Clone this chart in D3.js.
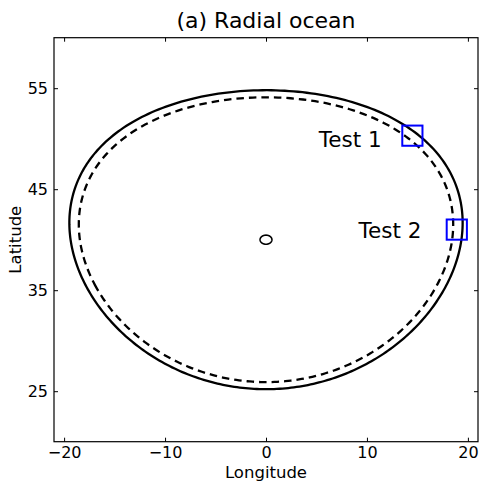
<!DOCTYPE html>
<html>
<head>
<meta charset="utf-8">
<script src="https://cdn.jsdelivr.net/npm/d3@7"></script>
<style>
  html, body { margin: 0; padding: 0; background: #fff; }
  svg { display: block; font-family: "DejaVu Sans", sans-serif; }
</style>
</head>
<body>
<svg id="chart" width="479" height="481"></svg>
<script>
// ---- data ----
const xTicks = [-20, -10, 0, 10, 20];
const yTicks = [25, 35, 45, 55];
const xDomain = [-21, 21];
const yDomain = [20, 60];
// ocean boundaries: spherical circles centred at (lon, lat) with radius in degrees
const circleCenters = [[0, 40], [0, 40], [0, 40]];
const circleRadii = [14.8, 14.1, 0.45];
const circleDash = ["none", "7.5,5", "none"];
// test boxes [lon0, lon1, lat0, lat1]
const boxLon0 = [13.5, 17.9];
const boxLon1 = [15.5, 19.9];
const boxLat0 = [49.3, 40.0];
const boxLat1 = [51.3, 42.0];
const labelText = ["Test 1", "Test 2"];
const labelLon = [11.45, 15.4];
const labelLat = [49.15, 40.14];

// ---- layout ----
const W = 479, H = 481;
const margin = { left: 54, right: 1, top: 37.7, bottom: 39.3 };
const svg = d3.select("#chart");

const x = d3.scaleLinear().domain(xDomain).range([margin.left, W - margin.right]);
const y = d3.scaleLinear().domain(yDomain).range([H - margin.bottom, margin.top]);

const line = d3.line().x(d => x(d[0])).y(d => y(d[1]));

// curves
circleRadii.forEach((r, i) => {
  const ring = d3.geoCircle().center(circleCenters[i]).radius(r).precision(1)().coordinates[0];
  svg.append("path")
    .attr("d", line(ring) + "Z")
    .attr("fill", "none")
    .attr("stroke", "#000")
    .attr("stroke-width", i === 2 ? 1.6 : 2.3)
    .attr("stroke-dasharray", circleDash[i]);
});

// test boxes
boxLon0.forEach((l0, i) => {
  svg.append("rect")
    .attr("x", x(l0))
    .attr("y", y(boxLat1[i]))
    .attr("width", x(boxLon1[i]) - x(l0))
    .attr("height", y(boxLat0[i]) - y(boxLat1[i]))
    .attr("fill", "none")
    .attr("stroke", "#0000ff")
    .attr("stroke-width", 2);
});

// labels
labelText.forEach((t, i) => {
  svg.append("text")
    .attr("x", x(labelLon[i]))
    .attr("y", y(labelLat[i]))
    .attr("text-anchor", "end")
    .attr("font-size", 21.5)
    .attr("fill", "#000")
    .text(t);
});

// axes: ticks inward on all four sides
const px0 = x.range()[0], px1 = x.range()[1];
const py0 = y.range()[0], py1 = y.range()[1];
const tickLen = 4;

const fmt = d => d < 0 ? "\u2212" + Math.abs(d) : String(d);

const gBottom = svg.append("g").attr("transform", `translate(0,${py0})`)
  .call(d3.axisBottom(x).tickValues(xTicks).tickSizeInner(-tickLen).tickSizeOuter(0).tickPadding(5).tickFormat(fmt));
const gTop = svg.append("g").attr("transform", `translate(0,${py1})`)
  .call(d3.axisTop(x).tickValues(xTicks).tickSizeInner(-tickLen).tickSizeOuter(0).tickFormat(""));
const gLeft = svg.append("g").attr("transform", `translate(${px0},0)`)
  .call(d3.axisLeft(y).tickValues(yTicks).tickSizeInner(-tickLen).tickSizeOuter(0).tickPadding(6).tickFormat(fmt));
const gRight = svg.append("g").attr("transform", `translate(${px1},0)`)
  .call(d3.axisRight(y).tickValues(yTicks).tickSizeInner(-tickLen).tickSizeOuter(0).tickFormat(""));

[gBottom, gTop, gLeft, gRight].forEach(g => {
  g.select(".domain").remove();
  g.selectAll(".tick line").attr("stroke", "#000").attr("stroke-width", 1);
  g.selectAll("text").attr("font-size", 16).attr("fill", "#000").attr("font-family", "DejaVu Sans, sans-serif");
});

// frame
svg.append("rect")
  .attr("x", px0).attr("y", py1)
  .attr("width", px1 - px0).attr("height", py0 - py1)
  .attr("fill", "none").attr("stroke", "#000").attr("stroke-width", 1.2);

// axis labels & title
svg.append("text")
  .attr("x", (px0 + px1) / 2).attr("y", H - 3)
  .attr("text-anchor", "middle").attr("font-size", 16.5).attr("fill", "#000")
  .text("Longitude");
svg.append("text")
  .attr("transform", `translate(21,${(py0 + py1) / 2}) rotate(-90)`)
  .attr("text-anchor", "middle").attr("font-size", 16.5).attr("fill", "#000")
  .text("Latitude");
svg.append("text")
  .attr("x", (px0 + px1) / 2).attr("y", 28)
  .attr("text-anchor", "middle").attr("font-size", 22).attr("fill", "#000")
  .text("(a) Radial ocean");
</script>
</body>
</html>
